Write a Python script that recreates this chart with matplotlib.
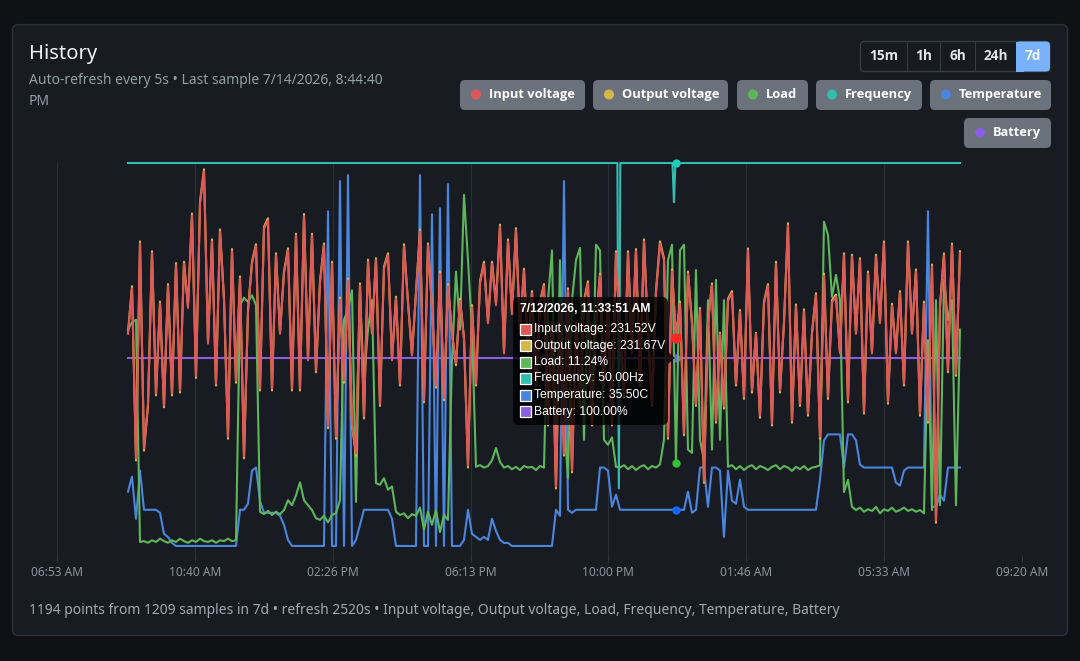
import numpy as np
import matplotlib
matplotlib.use("Agg")
import matplotlib.pyplot as plt
from matplotlib.patches import FancyBboxPatch, Rectangle, Polygon

W, H = 1080, 661
UI = ["Noto Sans", "DejaVu Sans"]
UI_BOLD = ["Open Sans", "DejaVu Sans"]
TIP = ["Liberation Sans", "DejaVu Sans"]

# x axis: hours after 06:53 AM
TICK_LABELS = ["06:53 AM", "10:40 AM", "02:26 PM", "06:13 PM",
               "10:00 PM", "01:46 AM", "05:33 AM", "09:20 AM"]
SPAN_H = 26.45
T_FIRST, T_LAST = 1.946, 24.75
HOVER = 137
HOVER_TIME = "7/12/2026, 11:33:51 AM"

input_v = [
    232.1, 238.6, 214.3, 245.0, 215.7, 222.1, 243.6, 223.6, 236.4, 221.9,
    238.9, 223.6, 241.9, 224.0, 242.1, 235.8, 249.0, 226.1, 250.7, 255.3,
    230.7, 245.3, 225.0, 246.7, 236.9, 217.4, 243.9, 225.4, 240.0, 214.6,
    235.2, 242.1, 244.6, 224.3, 247.1, 248.3, 224.3, 243.3, 232.1, 240.7,
    244.0, 224.3, 246.1, 224.3, 248.9, 228.3, 246.1, 226.9, 239.3, 244.7,
    218.9, 242.1, 217.4, 237.0, 225.4, 239.7, 219.3, 215.0, 239.0, 220.3,
    242.4, 232.1, 242.6, 222.1, 241.4, 243.3, 228.3, 237.1, 225.0, 244.6,
    236.4, 229.0, 237.9, 246.7, 222.6, 244.7, 235.6, 224.7, 240.7, 222.9,
    238.9, 232.1, 227.9, 236.8, 231.4, 213.3, 235.9, 225.0, 239.3, 242.1,
    233.6, 242.1, 236.2, 247.4, 229.3, 245.3, 234.9, 246.9, 232.1, 241.1,
    229.3, 237.9, 225.0, 236.4, 238.9, 219.3, 233.6, 210.3, 235.7, 215.0,
    238.3, 212.6, 233.6, 222.1, 236.6, 239.3, 219.3, 233.6, 240.4, 225.0,
    236.1, 219.3, 243.6, 232.1, 223.6, 243.6, 229.3, 243.9, 225.0, 245.3,
    232.1, 222.1, 237.9, 245.0, 242.6, 217.4, 241.0, 231.52, 236.4, 217.9,
    240.7, 233.6, 222.1, 235.5, 211.1, 233.6, 239.0, 219.7, 232.1, 221.7,
    236.8, 237.9, 225.0, 235.2, 223.1, 244.0, 224.0, 232.1, 220.4, 236.4,
    238.9, 219.3, 242.1, 224.0, 233.6, 247.6, 219.7, 236.0, 222.1, 235.3,
    220.7, 232.1, 237.6, 217.4, 240.4, 223.1, 236.6, 237.4, 229.3, 243.3,
    222.6, 243.1, 232.1, 242.6, 221.0, 240.7, 229.3, 243.1, 233.6, 245.0,
    222.4, 236.1, 229.3, 237.9, 225.0, 245.0, 232.1, 241.0, 220.7, 236.4,
    219.7, 241.7, 205.4, 235.8, 243.3, 226.9, 244.7, 226.4, 243.6,
]

output_v = [
    232.25, 238.9, 214.0, 245.3, 215.4, 221.8, 243.9, 223.3, 236.7, 221.6,
    239.2, 223.3, 242.2, 223.7, 242.4, 236.1, 249.3, 225.8, 251.0, 255.6,
    230.85, 245.6, 224.7, 247.0, 237.2, 217.1, 244.2, 225.1, 240.3, 214.3,
    235.5, 242.4, 244.9, 224.0, 247.4, 248.6, 224.0, 243.6, 232.25, 241.0,
    244.3, 224.0, 246.4, 224.0, 249.2, 228.45, 246.4, 226.6, 239.6, 245.0,
    218.6, 242.4, 217.1, 237.3, 225.1, 240.0, 219.0, 214.7, 239.3, 220.0,
    242.7, 232.25, 242.9, 221.8, 241.7, 243.6, 228.45, 237.4, 224.7, 244.9,
    236.7, 229.15, 238.2, 247.0, 222.3, 245.0, 235.9, 224.4, 241.0, 222.6,
    239.2, 232.25, 227.6, 237.1, 231.55, 213.0, 236.2, 224.7, 239.6, 242.4,
    233.75, 242.4, 236.5, 247.7, 229.45, 245.6, 235.05, 247.2, 232.25, 241.4,
    229.45, 238.2, 224.7, 236.7, 239.2, 219.0, 233.75, 210.0, 236.0, 214.7,
    238.6, 212.3, 233.75, 221.8, 236.9, 239.6, 219.0, 233.75, 240.7, 224.7,
    236.4, 219.0, 243.9, 232.25, 223.3, 243.9, 229.45, 244.2, 224.7, 245.6,
    232.25, 221.8, 238.2, 245.3, 242.9, 217.1, 241.3, 231.67, 236.7, 217.6,
    241.0, 233.75, 221.8, 235.8, 210.8, 233.75, 239.3, 219.4, 232.25, 221.4,
    237.1, 238.2, 224.7, 235.5, 222.8, 244.3, 223.7, 232.25, 220.1, 236.7,
    239.2, 219.0, 242.4, 223.7, 233.75, 247.9, 219.4, 236.3, 221.8, 235.6,
    220.4, 232.25, 237.9, 217.1, 240.7, 222.8, 236.9, 237.7, 229.45, 243.6,
    222.3, 243.4, 232.25, 242.9, 220.7, 241.0, 229.45, 243.4, 233.75, 245.3,
    222.1, 236.4, 229.45, 238.2, 224.7, 245.3, 232.25, 241.3, 220.4, 236.7,
    219.4, 242.0, 205.1, 236.1, 243.6, 226.6, 245.0, 226.1, 243.9,
]

load = [
    27.6, 28.5, 28.8, 1.6, 1.7, 1.5, 1.8, 1.6, 2.0, 1.7,
    1.5, 1.8, 1.6, 2.0, 1.7, 1.5, 1.8, 1.6, 2.0, 1.7,
    1.6, 1.8, 1.5, 1.8, 1.7, 2.0, 1.7, 1.8, 30.6, 31.5,
    31.0, 31.8, 30.6, 5.3, 5.0, 5.4, 4.9, 5.3, 5.0, 5.5,
    6.7, 6.1, 7.3, 8.9, 6.7, 6.1, 5.5, 4.5, 4.3, 4.8,
    4.0, 4.9, 5.1, 6.7, 28.8, 30.0, 32.4, 6.5, 31.2, 21.4,
    27.6, 31.2, 8.8, 8.6, 9.4, 8.0, 8.4, 5.3, 4.9, 5.1,
    4.5, 5.0, 4.8, 5.8, 3.1, 5.3, 3.7, 5.5, 2.8, 4.9,
    4.3, 23.9, 34.7, 27.6, 44.1, 36.1, 27.6, 10.8, 11.0, 10.7,
    10.9, 11.6, 13.1, 11.4, 10.7, 10.9, 10.5, 10.8, 10.4, 10.9,
    10.7, 10.8, 10.4, 10.9, 10.7, 31.2, 37.3, 10.4, 36.1, 16.5,
    9.4, 31.2, 36.1, 37.6, 14.1, 31.2, 16.5, 38.0, 37.3, 14.1,
    13.5, 14.4, 10.8, 10.7, 11.0, 10.5, 10.9, 10.4, 10.8, 11.0,
    10.5, 10.9, 10.7, 11.1, 14.1, 36.1, 38.0, 11.24, 37.3, 38.0,
    12.9, 12.5, 34.9, 14.1, 11.6, 31.2, 12.9, 33.7, 14.1, 31.2,
    10.8, 11.0, 10.5, 10.9, 10.4, 10.8, 11.0, 10.5, 10.9, 10.7,
    10.4, 10.8, 11.0, 10.5, 10.9, 10.7, 10.3, 10.8, 10.5, 10.9,
    10.4, 10.7, 10.8, 11.0, 40.8, 39.2, 31.6, 34.3, 31.2, 7.7,
    9.2, 5.9, 5.5, 5.8, 5.3, 5.6, 5.4, 5.9, 5.1, 5.6,
    5.4, 5.8, 5.3, 5.5, 5.8, 5.4, 5.6, 5.3, 5.5, 5.1,
    26.3, 5.5, 31.2, 6.1, 33.7, 28.8, 31.2, 6.1, 27.6,
]

temperature = [
    36.1, 36.6, 35.2, 36.8, 35.5, 35.5, 35.5, 35.5, 35.4, 34.7,
    34.6, 34.4, 34.3, 34.3, 34.3, 34.3, 34.3, 34.3, 34.3, 34.3,
    34.3, 34.3, 34.3, 34.3, 34.3, 34.3, 34.3, 34.3, 35.5, 35.5,
    35.7, 36.8, 36.9, 35.8, 35.4, 35.4, 35.4, 35.4, 35.3, 35.0,
    34.5, 34.3, 34.3, 34.3, 34.3, 34.3, 34.3, 34.3, 34.3, 34.3,
    45.4, 34.3, 34.3, 46.4, 34.3, 46.6, 34.3, 34.5, 35.0, 35.5,
    35.5, 35.5, 35.5, 35.5, 35.5, 35.5, 35.2, 34.3, 34.3, 34.3,
    34.3, 34.3, 34.3, 46.6, 34.3, 34.3, 45.3, 34.3, 45.5, 34.3,
    46.3, 34.3, 34.3, 34.3, 34.5, 35.5, 34.7, 34.6, 34.5, 34.6,
    34.5, 35.2, 34.8, 34.5, 34.4, 34.4, 34.3, 34.3, 34.3, 34.3,
    34.3, 34.3, 34.3, 34.3, 34.3, 34.3, 34.3, 35.5, 35.3, 46.4,
    35.5, 35.4, 35.5, 35.5, 35.5, 35.5, 35.5, 35.5, 36.9, 36.9,
    36.8, 35.6, 36.0, 35.5, 35.5, 35.5, 35.5, 35.5, 35.5, 35.5,
    35.5, 35.5, 35.5, 35.5, 35.5, 35.5, 35.5, 35.5, 35.5, 35.5,
    36.1, 35.4, 35.5, 36.9, 36.9, 35.6, 36.9, 36.9, 36.8, 34.6,
    36.8, 35.8, 35.7, 36.5, 35.6, 35.5, 35.5, 35.5, 35.5, 35.5,
    35.5, 35.5, 35.5, 35.5, 35.5, 35.5, 35.5, 35.5, 35.5, 35.5,
    35.5, 35.5, 35.5, 36.5, 37.8, 38.0, 38.0, 38.0, 38.0, 36.9,
    38.0, 38.0, 37.8, 37.0, 36.9, 36.9, 36.9, 36.9, 36.9, 36.9,
    36.9, 36.9, 36.4, 36.3, 36.8, 36.9, 36.9, 36.9, 36.9, 36.9,
    45.4, 35.6, 35.6, 36.0, 35.8, 36.9, 36.9, 36.9, 36.9,
]

battery = [100.0] * len(input_v)

# frequency only changes at two short dips, so it keeps its own sample times
freq_t = [T_FIRST, 15.36, 15.40, 15.44, 16.87, 16.91, 16.95, T_LAST]
freq_v = [50.0, 50.0, 49.17, 50.0, 50.0, 49.9, 50.0, 50.0]

t = np.linspace(T_FIRST, T_LAST, len(input_v))

# name, times, values, line colour, hover colour, y range, unit
SERIES = [
    ("Input voltage", t, input_v, "#e05757", "#ff2626", (200.5, 256.5), "V"),
    ("Output voltage", t, output_v, "#d8b548", "#ffc21a", (200.5, 256.5), "V"),
    ("Load", t, load, "#5db75a", "#2fc42f", (0, 48), "%"),
    ("Frequency", freq_t, freq_v, "#35bcb0", "#1fcab8", (49.0, 50.0), "Hz"),
    ("Temperature", t, temperature, "#4a86de", "#1766ff", (34.0, 47.0), "C"),
    ("Battery", t, battery, "#8c5ee0", "#8a4dff", (0, 199), "%"),
]

fig = plt.figure(figsize=(W / 100, H / 100), dpi=100)
fig.patch.set_facecolor("#0f1115")

# pixel-space background layer
bg = fig.add_axes([0, 0, 1, 1], zorder=-1)
bg.set_xlim(0, W)
bg.set_ylim(H, 0)
bg.axis("off")
bg.add_patch(FancyBboxPatch((12.5, 24.5), 1055, 611,
                            boxstyle="round,pad=0,rounding_size=6",
                            fc="#181b22", ec="#2c3039", lw=1))
bg.text(29, 54, "History", color="#f1f3f5", fontsize=14.5, family=UI, va="center")
bg.text(29, 80.5, "Auto-refresh every 5s \u2022 Last sample 7/14/2026, 8:44:40",
        color="#949ca6", fontsize=10, family=UI, va="center")
bg.text(29, 101.5, "PM", color="#949ca6", fontsize=10, family=UI, va="center")
bg.text(29, 610, "1194 points from 1209 samples in 7d \u2022 refresh 2520s \u2022 "
        + ", ".join(s[0] for s in SERIES),
        color="#a1a8b1", fontsize=10, family=UI, va="center")

# range selector
bg.add_patch(FancyBboxPatch((860.5, 41.5), 189.5, 30,
                            boxstyle="round,pad=0,rounding_size=4",
                            fc="#171a20", ec="#363b45", lw=1))
bg.add_patch(FancyBboxPatch((1016, 41.5), 34, 30,
                            boxstyle="round,pad=0,rounding_size=4",
                            fc="#79b1fb", ec="none"))
bg.add_patch(Rectangle((1016, 41.5), 8, 30, fc="#79b1fb", ec="none"))
for xd in (907, 940, 975):
    bg.plot([xd, xd], [42, 71], color="#363b45", lw=0.8)
for lbl, xc in [("15m", 883.5), ("1h", 923.5), ("6h", 957.5), ("24h", 995.5), ("7d", 1033)]:
    bg.text(xc, 56.5, lbl, color="#f4f6f8" if lbl == "7d" else "#e2e5e9",
            fontsize=9.8, weight="bold", family=UI_BOLD, ha="center", va="center")

# legend pills
PILLS = [(460, 585, 80), (593, 728, 80), (737, 808, 80),
         (816, 922, 80), (930, 1051, 80), (964, 1051, 118)]
for (x0, x1, y0), s in zip(PILLS, SERIES):
    bg.add_patch(FancyBboxPatch((x0, y0), x1 - x0, 30,
                                boxstyle="round,pad=0,rounding_size=5",
                                fc="#6b727b", ec="none"))
    bg.add_patch(plt.Circle((x0 + 16, y0 + 14.5), 5, fc=s[3], ec="none"))
    bg.text(x0 + 29, y0 + 14.5, s[0], color="#ffffff", fontsize=9.3,
            weight="bold", family=UI_BOLD, va="center")

# main axes (grid + time ticks)
ax = fig.add_axes([57 / W, 1 - 555 / H, (1022 - 57) / W, (555 - 163) / H])
ax.set_facecolor("none")
ax.set_xlim(0, SPAN_H)
ax.set_xticks(np.linspace(0, SPAN_H, len(TICK_LABELS)))
ax.set_xticklabels(TICK_LABELS, family=UI, fontsize=8.6, color="#8d949e")
ax.set_yticks([])
ax.tick_params(axis="x", length=5, width=0.8, color="#2f343c", pad=3)
ax.grid(axis="x", color="#2a2e36", lw=0.8)
for sp in ax.spines.values():
    sp.set_visible(False)

# one hidden y scale per series; first series drawn last so it sits on top
for name, xs, vals, col, hcol, lim, unit in reversed(SERIES):
    tw = ax.twinx()
    tw.set_ylim(*lim)
    tw.axis("off")
    tw.plot(xs, vals, color=col, lw=1.5, solid_joinstyle="round",
            clip_on=(name != "Frequency"))
    if name == "Frequency":
        hx, hy = t[HOVER], 50.0
    else:
        hx, hy = t[HOVER], vals[HOVER]
    ms = 7.5 if name == "Input voltage" else 6
    tw.plot([hx], [hy], "o", ms=ms, color=hcol, mec="none", clip_on=False, zorder=5)

# tooltip overlay (pixel space)
ov = fig.add_axes([0, 0, 1, 1], zorder=10)
ov.set_xlim(0, W)
ov.set_ylim(H, 0)
ov.axis("off")
ov.patch.set_alpha(0)
ov.add_patch(FancyBboxPatch((513, 297), 155, 128,
                            boxstyle="round,pad=0,rounding_size=6",
                            fc=(0, 0, 0, 0.8), ec="none"))
ov.add_patch(Polygon([(668, 352), (675, 358), (668, 364)], closed=True,
                     fc=(0, 0, 0, 0.8), ec="none"))
ov.text(520, 309, HOVER_TIME, color="white", fontsize=8.7, weight="bold",
        family=TIP, va="center")
for i, (name, xs, vals, col, hcol, lim, unit) in enumerate(SERIES):
    yc = 329 + i * 16.5
    val = 50.0 if name == "Frequency" else vals[HOVER]
    ov.add_patch(Rectangle((519.5, yc - 5.5), 11, 11, fc=col, ec="white", lw=0.9))
    ov.text(534, yc, f"{name}: {val:.2f}{unit}", color="white",
            fontsize=8.7, family=TIP, va="center")

fig.savefig("out.png", dpi=100, facecolor=fig.get_facecolor())
